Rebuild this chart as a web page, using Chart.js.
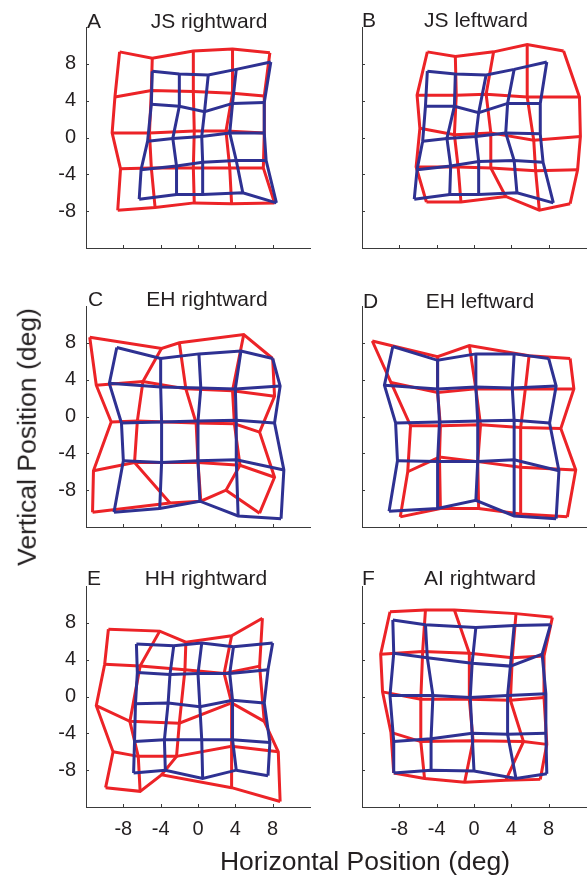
<!DOCTYPE html>
<html><head><meta charset="utf-8">
<script src="https://cdn.jsdelivr.net/npm/chart.js@4.4.0/dist/chart.umd.min.js"></script>
<style>
html,body{margin:0;padding:0;background:#fff;}
body{width:587px;height:877px;position:relative;overflow:hidden;font-family:"Liberation Sans",Arial,sans-serif;color:#231f20;}
canvas{position:absolute;}
.t{position:absolute;white-space:nowrap;line-height:1;}
</style></head><body>
<script>
// ---------- data (degrees) ----------
const tickValues = [-8, -4, 0, 4, 8];
const tickLabels = ['-8', '-4', '0', '4', '8'];
const panelLetters = ['A', 'B', 'C', 'D', 'E', 'F'];
const panelTitles = ['JS rightward', 'JS leftward', 'EH rightward', 'EH leftward', 'HH rightward', 'AI rightward'];

// each matrix: 5 rows (top to bottom) x 5 columns (left to right)
const A_redX = [[-8.4,-4.9,-0.5,3.7,7.7],[-8.9,-5.0,-0.5,3.7,7.1],[-9.2,-5.2,-0.4,3.0,7.1],[-8.3,-5.0,-0.5,3.4,7.0],[-8.6,-4.6,-0.4,3.6,8.2]];
const A_redY = [[9.3,8.6,9.4,9.6,9.2],[4.4,5.1,5.0,4.8,4.5],[0.5,0.5,0.7,0.7,0.5],[-3.4,-3.3,-3.3,-3.3,-3.3],[-7.9,-7.6,-7.1,-7.2,-7.1]];
const A_blueX = [[-4.9,-2.0,1.1,4.1,7.8],[-5.0,-2.0,0.7,3.7,7.1],[-5.4,-2.7,0.4,3.4,7.1],[-6.1,-2.3,0.5,4.1,7.3],[-6.3,-2.3,0.5,4.8,8.4]];
const A_blueY = [[7.2,6.9,6.8,7.4,8.2],[3.6,3.4,2.8,3.7,3.8],[-0.4,-0.1,0.1,0.5,0.5],[-3.5,-3.1,-2.7,-2.5,-2.5],[-6.7,-6.2,-6.2,-6.0,-7.1]];

const B_redX = [[-5.0,-2.0,2.1,5.7,9.6],[-6.1,-1.9,1.3,5.7,11.3],[-5.8,-2.1,1.8,6.4,11.4],[-6.2,-1.7,1.8,6.6,11.1],[-5.1,-1.4,3.4,7.0,10.3]];
const B_redY = [[9.3,8.8,9.3,10.1,9.4],[4.6,4.6,4.7,4.4,4.4],[1.0,0.3,0.5,-0.3,0.1],[-3.2,-3.2,-3.3,-3.6,-3.5],[-7.0,-7.0,-6.4,-7.9,-7.2]];
const B_blueX = [[-5.0,-2.0,1.3,4.3,7.8],[-5.2,-2.1,0.5,3.6,7.1],[-5.5,-2.9,0.2,3.4,7.1],[-6.1,-2.5,0.5,4.3,7.4],[-6.4,-2.6,0.5,4.6,8.5]];
const B_blueY = [[7.2,6.9,6.8,7.4,8.2],[3.4,3.4,2.7,3.7,3.7],[-0.4,-0.1,0.1,0.5,0.4],[-3.5,-3.1,-2.6,-2.5,-2.7],[-6.7,-6.2,-6.2,-6.0,-7.1]];

const C_redX = [[-11.6,-3.9,-2.0,4.9,8.0],[-10.9,-5.9,-1.3,3.7,8.2],[-9.3,-6.5,-0.2,3.9,6.6],[-11.2,-6.8,0.0,4.5,8.2],[-11.3,-3.0,0.3,3.0,6.6]];
const C_redY = [[8.6,7.4,8.0,8.9,6.3],[3.4,3.8,3.0,2.8,2.2],[-0.6,-0.5,-0.7,-0.8,-1.7],[-5.9,-5.0,-5.0,-5.3,-6.6],[-10.4,-9.4,-9.2,-8.0,-10.5]];
const C_blueX = [[-8.7,-4.0,0.1,4.6,8.0],[-9.5,-4.0,0.3,4.0,8.8],[-8.2,-3.9,0.0,4.1,8.2],[-8.0,-3.9,0.0,4.1,9.2],[-9.0,-4.1,0.2,4.3,8.9]];
const C_blueY = [[7.5,6.3,6.8,7.1,6.3],[3.6,3.2,3.1,3.0,3.3],[-0.7,-0.6,-0.5,-0.4,-0.7],[-4.8,-5.0,-4.8,-4.7,-5.8],[-10.4,-10.0,-9.2,-10.8,-11.1]];

const D_redX = [[-10.9,-3.9,-0.5,5.9,10.3],[-8.9,-3.9,0.2,5.5,10.7],[-6.8,-3.6,0.7,5.0,9.3],[-7.1,-3.7,0.4,5.0,10.9],[-7.9,-3.6,0.5,5.0,10.0]];
const D_redY = [[8.2,6.5,7.7,6.6,6.3],[3.7,2.6,3.0,3.0,3.0],[-1.0,-1.0,-0.9,-1.2,-1.3],[-6.0,-4.4,-4.9,-5.5,-5.8],[-10.9,-10.0,-10.0,-10.6,-10.9]];
const D_blueX = [[-8.7,-3.9,0.2,4.3,8.0],[-9.6,-3.9,0.2,4.1,8.8],[-8.4,-3.7,0.4,4.3,8.1],[-8.2,-3.9,0.4,4.3,9.1],[-9.1,-3.9,0.2,4.3,8.8]];
const D_blueY = [[7.6,6.1,6.8,6.8,6.3],[3.4,3.0,3.2,3.1,3.3],[-0.7,-0.6,-0.5,-0.4,-0.7],[-4.8,-4.9,-4.9,-4.7,-5.9],[-10.3,-10.0,-9.1,-10.8,-11.1]];

const E_redX = [[-9.6,-4.1,-1.3,3.6,6.9],[-10.0,-6.2,-1.4,2.8,6.6],[-10.9,-7.3,-2.0,3.6,7.1],[-9.1,-6.4,-2.3,3.6,8.6],[-9.9,-6.2,-3.9,3.6,8.8]];
const E_redY = [[7.3,7.1,5.9,6.6,8.5],[3.5,3.3,2.9,2.5,3.3],[-1.0,-2.7,-2.9,-0.7,-2.7],[-6.0,-6.5,-6.5,-5.4,-6.0],[-9.9,-10.3,-8.5,-9.9,-11.4]];
const E_blueX = [[-6.6,-2.6,0.4,3.8,8.0],[-6.5,-3.0,0.0,3.4,7.5],[-6.7,-3.2,0.2,3.7,7.1],[-6.8,-3.6,0.4,3.7,7.7],[-6.9,-3.5,0.5,4.1,7.5]];
const E_blueY = [[5.7,5.5,5.8,5.4,5.8],[2.6,2.4,2.5,2.5,2.9],[-0.8,-0.7,-1.1,-0.4,-0.7],[-4.9,-4.7,-4.7,-4.7,-5.0],[-8.3,-8.0,-8.9,-8.0,-8.6]];

const F_redX = [[-9.0,-5.2,-2.1,4.5,8.4],[-10.0,-5.5,-0.5,4.1,7.5],[-9.8,-5.7,-0.5,3.9,7.5],[-8.9,-5.7,-0.1,5.3,7.8],[-8.6,-5.3,-1.0,3.4,7.1]];
const F_redY = [[9.2,9.4,9.4,9.0,8.6],[4.6,4.9,4.7,4.2,4.4],[0.5,-0.3,-0.3,-0.4,-0.1],[-3.9,-4.9,-4.8,-4.9,-5.2],[-8.3,-8.9,-9.3,-9.1,-9.0]];
const F_blueX = [[-8.7,-5.2,0.2,4.3,8.2],[-8.6,-5.0,-0.2,3.9,7.3],[-9.0,-4.4,-0.4,3.6,7.7],[-8.6,-4.6,-0.2,3.6,7.7],[-8.6,-4.6,0.0,4.5,7.8]];
const F_blueY = [[8.3,7.8,7.5,7.7,7.8],[4.7,4.2,3.6,3.3,4.6],[0.1,0.1,-0.1,0.1,0.3],[-4.9,-4.6,-4.0,-4.1,-4.0],[-8.3,-8.0,-8.1,-8.9,-8.4]];

// ---------- styling / layout ----------
const RED = '#ec2327';
const BLUE = '#2e3192';
const AXIS = '#3a3a3a';
const TXT = '#231f20';
const FAMILY = '"Liberation Sans", Arial, sans-serif';
const PLOT_W = 224, PLOT_H = 221;
const colLeft = [86, 362];
const rowTop = [27, 306, 586];
const L = 60, T = 6, R = 1, B = 45;

const grids = [
  [A_redX, A_redY, A_blueX, A_blueY],
  [B_redX, B_redY, B_blueX, B_blueY],
  [C_redX, C_redY, C_blueX, C_blueY],
  [D_redX, D_redY, D_blueX, D_blueY],
  [E_redX, E_redY, E_blueX, E_blueY],
  [F_redX, F_redY, F_blueX, F_blueY]
];
const letterLeft = [87, 362, 88, 363, 87, 362];
const titleCenter = [209, 476, 207, 480, 206, 480];
const baseline = [28, 27, 306, 308, 585, 585];

function gridDatasets(X, Y, color, order) {
  const out = [];
  for (let i = 0; i < X.length; i++) {
    out.push({ data: X[i].map((x, j) => ({ x, y: Y[i][j] })), borderColor: color, order });
  }
  for (let j = 0; j < X[0].length; j++) {
    out.push({ data: X.map((row, i) => ({ x: row[j], y: Y[i][j] })), borderColor: color, order });
  }
  return out.map(d => Object.assign(d, { showLine: true, pointRadius: 0, borderWidth: 3, fill: false, tension: 0 }));
}

const inTicks = {
  id: 'inTicks',
  afterDraw(chart) {
    const { ctx, chartArea: a, scales } = chart;
    ctx.save();
    ctx.strokeStyle = AXIS; ctx.lineWidth = 1;
    ctx.beginPath();
    tickValues.forEach(v => {
      const px = Math.round(scales.x.getPixelForValue(v)) + 0.5;
      ctx.moveTo(px, a.bottom); ctx.lineTo(px, a.bottom - 3);
      const py = Math.round(scales.y.getPixelForValue(v)) + 0.5;
      ctx.moveTo(a.left, py); ctx.lineTo(a.left + 3, py);
    });
    ctx.stroke();
    ctx.restore();
  }
};

function axis(showLabels, isX) {
  return {
    type: 'linear', min: -12, max: 12,
    afterBuildTicks: s => { s.ticks = tickValues.map(v => ({ value: v })); },
    afterFit: s => {
      if (isX) s.height = B; else s.width = L;
      s.paddingTop = 0; s.paddingBottom = 0; s.paddingLeft = 0; s.paddingRight = 0;
    },
    grid: { display: false, drawTicks: false },
    border: { display: true, color: AXIS, width: 1 },
    ticks: {
      display: showLabels, padding: 10, color: TXT,
      font: { family: FAMILY, size: 20 },
      maxRotation: 0, autoSkip: false,
      callback: v => tickLabels[tickValues.indexOf(v)]
    }
  };
}

function addText(txt, cls, style) {
  const d = document.createElement('div');
  d.className = cls; d.textContent = txt;
  Object.assign(d.style, style);
  document.body.appendChild(d);
}

grids.forEach((g, k) => {
  const col = k % 2, row = Math.floor(k / 2);
  const cv = document.createElement('canvas');
  const w = L + PLOT_W + R, h = T + PLOT_H + B;
  cv.width = w; cv.height = h;
  cv.style.width = w + 'px'; cv.style.height = h + 'px';
  cv.style.left = (colLeft[col] - L) + 'px';
  cv.style.top = (rowTop[row] - T) + 'px';
  document.body.appendChild(cv);
  const datasets = gridDatasets(g[2], g[3], BLUE, 0).concat(gridDatasets(g[0], g[1], RED, 1));
  new Chart(cv, {
    type: 'scatter',
    data: { datasets },
    options: {
      responsive: false, animation: false, devicePixelRatio: 1,
      layout: { padding: { left: 0, right: R, top: T, bottom: 0 } },
      plugins: { legend: { display: false }, tooltip: { enabled: false }, title: { display: false } },
      scales: { x: axis(row === 2, true), y: axis(col === 0, false) }
    },
    plugins: [inTicks]
  });
  addText(panelLetters[k], 't', { left: letterLeft[k] + 'px', top: (baseline[k] - 17.8) + 'px', fontSize: '21px' });
  addText(panelTitles[k], 't', { left: titleCenter[k] + 'px', top: (baseline[k] - 17.8) + 'px', fontSize: '21px', transform: 'translateX(-50%)' });
});

addText('Horizontal Position (deg)', 't', { left: '365px', top: (870 - 22.5) + 'px', fontSize: '26.5px', transform: 'translateX(-50%)' });
addText('Vertical Position (deg)', 't', { left: '27px', top: '437px', fontSize: '26.5px', transform: 'translate(-50%,-50%) rotate(-90deg)' });
</script>
</body></html>
